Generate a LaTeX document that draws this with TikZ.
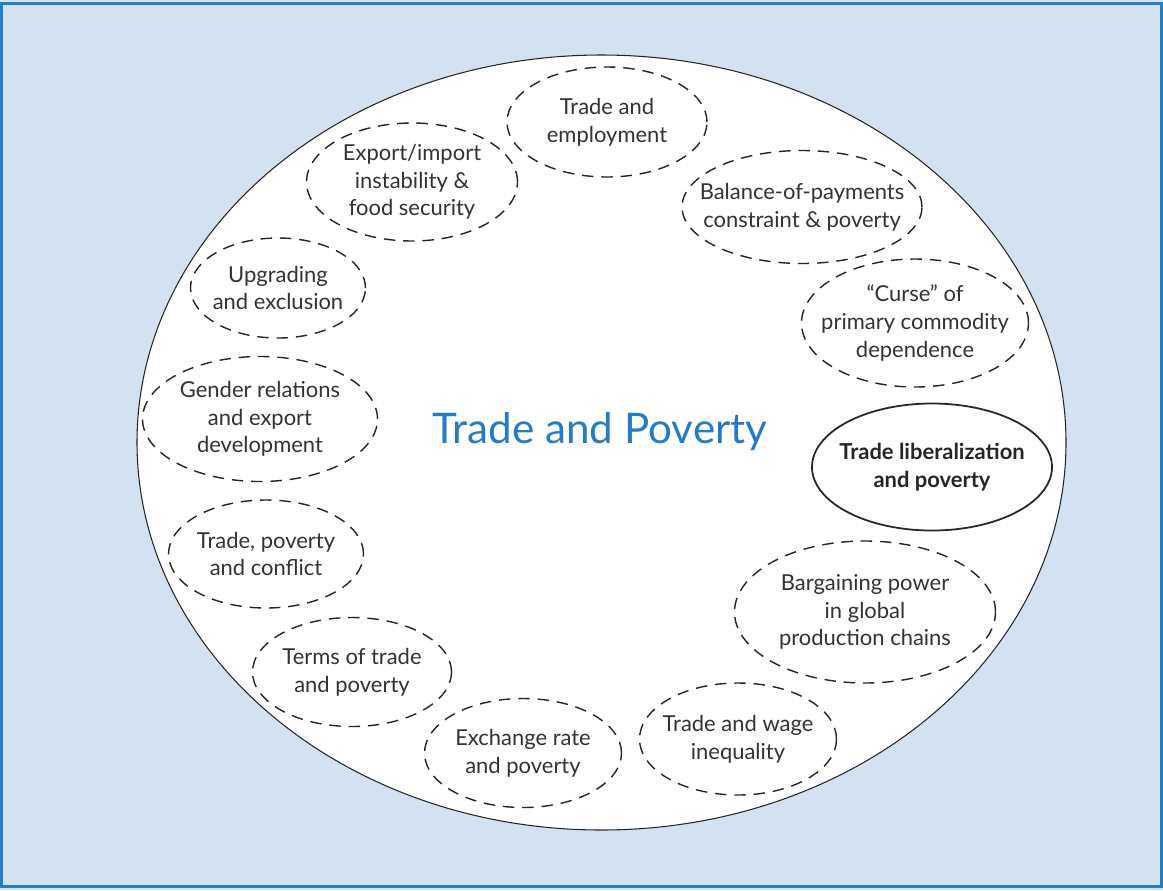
\documentclass[tikz,border=0pt]{standalone}
\usepackage{fontspec}
\setmainfont{Lato}
\usetikzlibrary{shapes.geometric}

\definecolor{panelblue}{RGB}{212,225,241}
\definecolor{frameblue}{RGB}{35,128,198}
\definecolor{titleblue}{RGB}{38,124,196}

\tikzset{
  topic/.style 2 args={ellipse, draw=black!85, line width=0.8pt,
    dash pattern=on 6.5pt off 4.5pt, inner xsep=-0.45cm, inner ysep=0pt,
    align=center, text=black!80, font=\fontsize{12.5}{15.8}\selectfont,
    minimum width=#1*0.02cm, minimum height=#2*0.02cm},
  keytopic/.style 2 args={topic={#1}{#2}, solid, line width=1pt,
    text=black!85, font=\fontsize{12.5}{15.8}\selectfont\bfseries}
}

\begin{document}
\begin{tikzpicture}[x=0.02cm, y=-0.02cm]
    \useasboundingbox (0,0) rectangle (1163,890);
    \fill[panelblue] (0,0) rectangle (1163,890);
    \draw[frameblue, line width=0.06cm] (1.5,3.5) rectangle (1161,886.5);

    % outer ring
    \node[ellipse, draw=black!85, fill=white, line width=0.6pt, inner sep=0pt,
          minimum width=929*0.02cm, minimum height=775*0.02cm] (ring) at (601.5,442.5) {};
    \node[text=titleblue, font=\fontsize{24}{28}\selectfont] (title) at (600,432) {Trade and Poverty};

    % topics round the ring
    \node[topic={200}{110}] (emp)    at (607,122) {Trade and\\employment};
    \node[topic={240}{113}] (bop)    at (802,207) {Balance-of-payments\\constraint \& poverty};
    \node[topic={227}{128}] (curse)  at (915,323) {“Curse” of\\primary commodity\\dependence};
    \node[keytopic={240}{127}] (lib) at (932,467) {Trade liberalization\\and poverty};
    \node[topic={261}{142}] (barg)   at (865,612) {Bargaining power\\in global\\production chains};
    \node[topic={197}{112}] (wage)   at (738,739) {Trade and wage\\inequality};
    \node[topic={197}{109}] (exch)   at (523,753) {Exchange rate\\and poverty};
    \node[topic={199}{109}] (terms)  at (352,672) {Terms of trade\\and poverty};
    \node[topic={195}{108}] (confl)  at (266,554) {Trade, poverty\\and conflict};
    \node[topic={235}{125}] (gender) at (260,419) {Gender relations\\and export\\development};
    \node[topic={175}{100}] (upgr)   at (278,288) {Upgrading\\and exclusion};
    \node[topic={211}{118}] (expimp) at (412,182) {Export/import\\instability \&\\food security};
\end{tikzpicture}
\end{document}
